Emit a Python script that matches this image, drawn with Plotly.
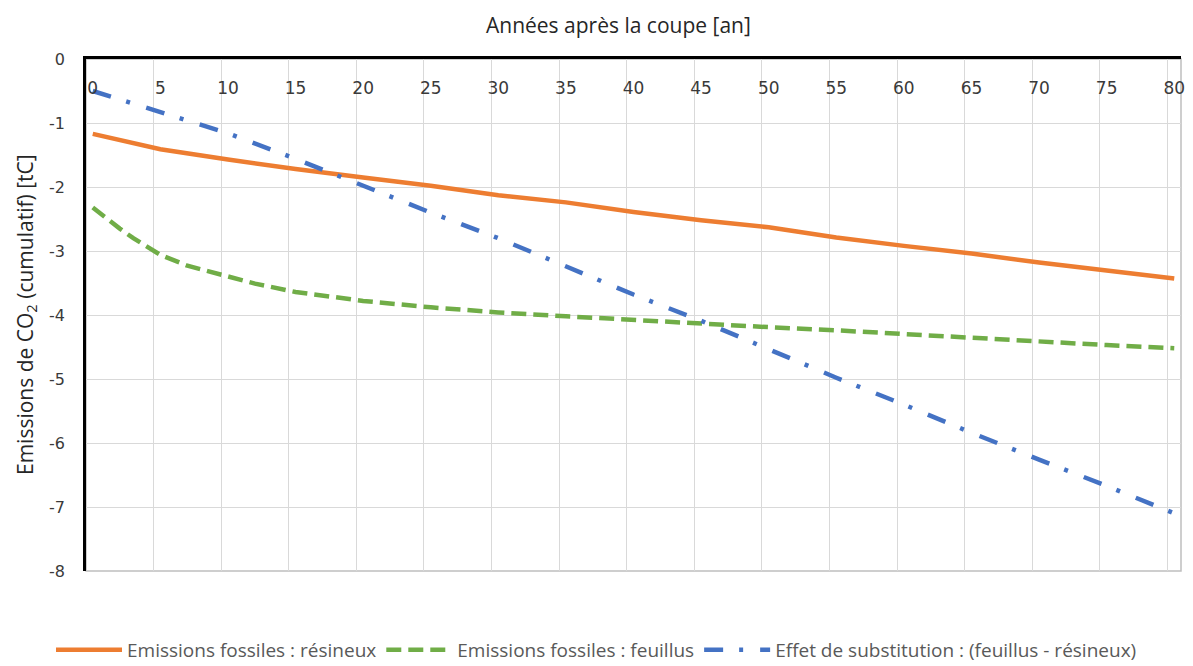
import plotly.graph_objects as go

# ---- data ----
years_5 = [0, 5, 10, 15, 20, 25, 30, 35, 40, 45, 50, 55, 60, 65, 70, 75, 80]
resineux = [-1.17, -1.41, -1.57, -1.72, -1.85, -1.98, -2.13, -2.24, -2.39,
            -2.52, -2.63, -2.79, -2.92, -3.04, -3.18, -3.30, -3.43]
years_g = [0, 1, 2, 3, 4, 5, 7, 10, 12, 15, 20, 25, 30, 35, 40, 45, 50, 55,
           60, 65, 70, 75, 80]
feuillus = [-2.32, -2.49, -2.65, -2.80, -2.94, -3.06, -3.23, -3.40, -3.51,
            -3.64, -3.78, -3.88, -3.96, -4.02, -4.08, -4.14, -4.19, -4.24,
            -4.30, -4.36, -4.41, -4.47, -4.52]
substitution = [-0.50, -0.83, -1.16, -1.56, -1.98, -2.40, -2.80, -3.24, -3.68,
                -4.09, -4.54, -4.98, -5.40, -5.84, -6.26, -6.67, -7.10]

x_ticks = list(range(0, 81, 5))
x_tick_labels = [str(v) for v in x_ticks]
y_ticks = list(range(-8, 1))
y_tick_labels = [str(v) for v in y_ticks]

names = ["Emissions fossiles : résineux",
         "Emissions fossiles : feuillus",
         "Effet de substitution : (feuillus - résineux)"]

ORANGE = "#ED7D31"
GREEN = "#70AD47"
BLUE = "#4472C4"

fig = go.Figure()
fig.add_trace(go.Scatter(x=years_5, y=resineux, mode="lines", name=names[0],
                         line=dict(color=ORANGE, width=4.5)))
fig.add_trace(go.Scatter(x=years_g, y=feuillus, mode="lines", name=names[1],
                         line=dict(color=GREEN, width=4.5, dash="15px,7px")))
fig.add_trace(go.Scatter(x=years_5, y=substitution, mode="lines", name=names[2],
                         line=dict(color=BLUE, width=4.5,
                                   dash="19px,16px,4px,17px")))

grid_pos = [v - 0.5 for v in x_ticks]

fig.update_layout(
    width=1193, height=666,
    margin=dict(l=86, r=12, t=59, b=95, autoexpand=False),
    paper_bgcolor="white", plot_bgcolor="white",
    showlegend=True,
    legend=dict(orientation="h", xref="container", x=0.5, xanchor="center",
                y=-0.154, yanchor="middle", itemwidth=66,
                font=dict(family="Open Sans", size=19, color="#595959")),
    xaxis=dict(range=[-0.5, 80.5], side="top", tickvals=x_ticks,
               ticktext=x_tick_labels, showgrid=False, zeroline=False,
               ticks="", ticklabelposition="inside", ticklabelstandoff=24,
               ticklabeloverflow="allow", tickangle=0, automargin=False,
               showline=True, linecolor="black", linewidth=2.5,
               tickfont=dict(family="DejaVu Sans", size=17, color="#3a3a3a"),
               minor=dict(tickvals=grid_pos, showgrid=True,
                          gridcolor="#d9d9d9", gridwidth=1.3, ticks="")),
    yaxis=dict(range=[-8, 0], tickvals=y_ticks, ticktext=y_tick_labels,
               showgrid=True, gridcolor="#d9d9d9", gridwidth=1.3,
               zeroline=False, ticks="", ticklabelstandoff=15,
               ticklabeloverflow="allow", automargin=False,
               showline=True, linecolor="black", linewidth=2.5,
               tickfont=dict(family="DejaVu Sans", size=16, color="#3a3a3a")),
    shapes=[dict(type="rect", xref="paper", yref="paper", x0=0, x1=1,
                 y0=0, y1=1, line=dict(color="#bfbfbf", width=1.5),
                 layer="below")],
    annotations=[
        dict(text="Années après la coupe [an]", xref="paper", yref="paper",
             x=(618 - 86) / 1095, y=1 + (59 - 25) / 512, xanchor="center",
             yanchor="middle", showarrow=False,
             font=dict(family="Open Sans", size=21, color="#262626")),
        dict(text="Emissions de CO<sub>2</sub> (cumulatif) [tC]",
             xref="paper", yref="paper", x=(26 - 86) / 1095,
             y=0.5, xanchor="center", yanchor="middle",
             textangle=-90, showarrow=False,
             font=dict(family="Open Sans", size=21, color="#262626")),
    ],
)

fig.write_html("out.html", config={"displayModeBar": False},
               post_script="document.body.style.margin='0';")
